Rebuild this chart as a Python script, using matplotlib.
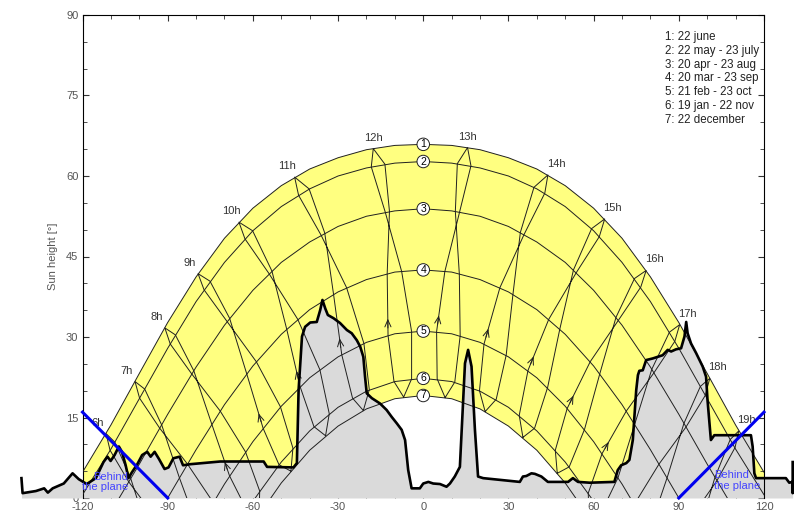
import matplotlib
matplotlib.use('Agg')
import matplotlib.pyplot as plt

plt.rcParams['font.family'] = ['Liberation Sans', 'DejaVu Sans']
plt.rcParams['axes.unicode_minus'] = False

# Sun paths: sun height [deg] at each azimuth of AZ_GRID, one list per date (1..7)
AZ_GRID = [-120, -110, -100, -90, -80, -70, -60, -50, -40, -30, -20, -10, 0,
           10, 20, 30, 40, 50, 60, 70, 80, 90, 100, 110, 120]
EL_22JUN = [4.8, 13.6, 23.2, 32.7, 41.2, 48.4, 54.0, 58.2, 61.3, 63.4, 64.9, 65.7, 65.9,
            65.7, 64.9, 63.4, 61.3, 58.2, 54.0, 48.4, 41.2, 32.7, 23.2, 13.6, 4.8]
EL_MAY_JUL = [0.6, 9.1, 18.5, 27.9, 36.6, 43.9, 49.8, 54.3, 57.6, 60.0, 61.5, 62.4, 62.7,
              62.4, 61.5, 60.0, 57.6, 54.3, 49.8, 43.9, 36.6, 27.9, 18.5, 9.1, 0.6]
EL_APR_AUG = [-10.5, -2.6, 6.3, 15.6, 24.4, 32.2, 38.7, 43.9, 47.7, 50.6, 52.5, 53.5, 53.9,
              53.5, 52.5, 50.6, 47.7, 43.9, 38.7, 32.2, 24.4, 15.6, 6.3, -2.6, -10.5]
EL_MAR_SEP = [-24.6, -17.4, -9.0, 0.0, 9.0, 17.4, 24.6, 30.5, 35.1, 38.4, 40.7, 42.1, 42.5,
              42.1, 40.7, 38.4, 35.1, 30.5, 24.6, 17.4, 9.0, 0.0, -9.0, -17.4, -24.6]
EL_FEB_OCT = [-38.7, -32.2, -24.4, -15.6, -6.3, 2.6, 10.5, 17.1, 22.4, 26.3, 29.0, 30.6, 31.1,
              30.6, 29.0, 26.3, 22.4, 17.1, 10.5, 2.6, -6.3, -15.6, -24.4, -32.2, -38.7]
EL_JAN_NOV = [-49.8, -43.9, -36.6, -27.9, -18.5, -9.1, -0.6, 6.7, 12.5, 16.9, 19.9, 21.7, 22.3,
              21.7, 19.9, 16.9, 12.5, 6.7, -0.6, -9.1, -18.5, -27.9, -36.6, -43.9, -49.8]
EL_22DEC = [-54.0, -48.4, -41.2, -32.7, -23.2, -13.6, -4.8, 2.8, 8.9, 13.4, 16.6, 18.5, 19.1,
            18.5, 16.6, 13.4, 8.9, 2.8, -4.8, -13.6, -23.2, -32.7, -41.2, -48.4, -54.0]
PATHS = [EL_22JUN, EL_MAY_JUL, EL_APR_AUG, EL_MAR_SEP, EL_FEB_OCT, EL_JAN_NOV, EL_22DEC]

LEGEND = ['1: 22 june', '2: 22 may - 23 july', '3: 20 apr - 23 aug', '4: 20 mar - 23 sep',
          '5: 21 feb - 23 oct', '6: 19 jan - 22 nov', '7: 22 december']

# Hour lines (legal time), sun position on each date of the year loop:
# 22 dec, 19 jan, 21 feb, 20 mar, 20 apr, 22 may, 22 jun, 23 jul, 23 aug, 23 sep, 23 oct, 22 nov
HOURS = [6, 7, 8, 9, 10, 11, 12, 13, 14, 15, 16, 17, 18, 19]
HOUR_AZ = [
    [-78.5, -83.2, -90.2, -97.0, -103.0, -108.6, -111.7, -110.3, -103.7, -94.1, -84.9, -78.8],
    [-68.3, -72.7, -79.3, -85.9, -92.1, -98.1, -101.5, -99.9, -92.8, -83.0, -74.0, -68.4],
    [-57.8, -62.1, -68.2, -74.5, -80.8, -87.3, -91.0, -89.1, -81.5, -71.5, -62.6, -57.6],
    [-46.6, -50.8, -56.4, -62.2, -68.2, -75.1, -79.3, -77.2, -69.1, -58.8, -50.3, -45.9],
    [-34.4, -38.5, -43.4, -48.1, -53.3, -60.1, -64.9, -62.8, -54.3, -44.2, -36.4, -33.1],
    [-21.1, -24.9, -28.7, -31.6, -34.7, -40.2, -45.3, -43.9, -36.0, -27.0, -20.9, -19.0],
    [-6.9, -10.3, -12.4, -12.7, -11.9, -13.5, -17.6, -18.3, -13.4, -7.6, -4.1, -4.1],
    [7.7, 4.9, 4.7, 7.6, 12.8, 16.8, 15.6, 12.0, 11.3, 12.7, 13.0, 11.1],
    [21.8, 19.8, 21.4, 27.0, 35.5, 42.8, 43.9, 39.0, 34.2, 31.6, 29.2, 25.7],
    [35.1, 33.8, 36.9, 44.2, 53.9, 62.0, 63.9, 59.3, 52.9, 48.1, 43.8, 39.2],
    [47.2, 46.5, 50.7, 58.8, 68.7, 76.6, 78.5, 74.4, 67.9, 62.2, 56.8, 51.4],
    [58.4, 58.1, 63.0, 71.5, 81.2, 88.6, 90.3, 86.7, 80.5, 74.5, 68.6, 62.7],
    [68.8, 68.9, 74.3, 83.0, 92.5, 99.3, 100.9, 97.6, 91.8, 85.9, 79.6, 73.2],
    [79.1, 79.4, 85.2, 94.1, 103.4, 109.8, 111.1, 108.1, 102.7, 97.0, 90.6, 83.7],
]
HOUR_EL = [
    [-21.7, -21.5, -15.7, -6.3, 3.6, 10.4, 12.0, 8.9, 3.0, -3.8, -10.8, -17.4],
    [-12.0, -11.6, -5.7, 3.8, 13.6, 20.3, 21.7, 18.6, 13.0, 6.3, -0.8, -7.7],
    [-3.0, -2.3, 4.1, 13.8, 23.7, 30.4, 31.7, 28.7, 23.1, 16.2, 8.6, 1.3],
    [5.0, 6.2, 13.0, 23.2, 33.5, 40.4, 41.8, 38.8, 32.9, 25.4, 17.0, 9.3],
    [11.6, 13.3, 20.8, 31.5, 42.3, 49.8, 51.4, 48.3, 41.8, 33.3, 23.9, 15.7],
    [16.3, 18.6, 26.7, 38.0, 49.4, 57.6, 59.8, 56.4, 49.0, 39.2, 28.8, 20.2],
    [18.8, 21.7, 30.3, 41.8, 53.4, 62.2, 65.1, 61.7, 53.3, 42.2, 31.0, 22.2],
    [18.7, 22.2, 31.0, 42.2, 53.3, 61.9, 65.3, 62.3, 53.4, 41.8, 30.2, 21.6],
    [16.1, 20.0, 28.7, 39.2, 49.1, 56.8, 60.2, 57.9, 49.5, 38.0, 26.6, 18.4],
    [11.3, 15.4, 23.8, 33.3, 42.0, 48.7, 52.0, 50.2, 42.5, 31.5, 20.6, 13.0],
    [4.6, 8.9, 16.7, 25.4, 33.1, 39.3, 42.4, 40.9, 33.7, 23.2, 12.8, 5.8],
    [-3.4, 0.9, 8.3, 16.2, 23.3, 29.2, 32.3, 30.9, 24.0, 13.8, 3.8, -2.7],
    [-12.5, -8.2, -1.2, 6.3, 13.2, 19.1, 22.3, 20.8, 13.9, 3.8, -6.0, -12.1],
    [-22.2, -17.9, -11.1, -3.8, 3.2, 9.4, 12.5, 10.9, 3.8, -6.3, -16.1, -22.0],
]

# Far horizon profile
HZ_AZ = [-141.5, -141.1, -136.4, -133.5, -132.2, -130.5, -126.6, -123.5, -121.3, -118.5, -115.3,
         -112.6, -111.2, -110.1, -108.7, -107.2, -106.1, -104.8, -103.8, -102.7, -100.7, -99.0,
         -97.2, -96.0, -94.6, -93.1, -91.1, -89.7, -88.0, -85.8, -84.6, -82.0, -71.5, -56.2,
         -55.0, -45.7, -44.5, -43.9, -42.7, -41.6, -39.8, -37.5, -36.3, -35.5, -34.5, -33.6,
         -31.6, -29.3, -26.9, -25.2, -23.4, -22.2, -21.1, -20.5, -19.9, -18.1, -15.2, -12.9,
         -11.1, -9.3, -7.6, -6.4, -5.3, -4.1, -1.2, 0.0, 1.8, 3.5, 5.9, 8.2, 9.4, 11.1, 12.9,
         14.7, 15.8, 17.0, 18.2, 19.3, 21.1, 34.0, 35.1, 36.3, 38.1, 39.3, 41.6, 43.9, 51.0,
         52.7, 54.5, 58.6, 67.3, 68.5, 69.7, 71.5, 72.6, 73.8, 75.0, 75.6, 76.1, 77.3, 78.5,
         80.8, 84.3, 86.1, 87.3, 89.0, 90.8, 92.0, 92.6, 93.1, 94.3, 96.1, 98.4, 99.6, 100.1,
         101.3, 102.5, 115.4, 116.0, 116.6, 117.2, 127.7, 128.9, 130.0, 130.1, 130.1]
HZ_EL = [3.7, 0.9, 1.3, 1.8, 1.0, 1.8, 2.7, 4.6, 3.5, 2.6, 3.7,
         6.7, 7.7, 6.9, 8.0, 9.6, 8.6, 6.1, 3.7, 4.7, 6.3, 8.0,
         8.6, 7.7, 8.6, 7.3, 5.4, 5.7, 7.4, 7.7, 6.1, 6.3, 6.8, 6.8,
         5.8, 5.7, 6.5, 20.1, 30.1, 31.9, 32.7, 32.8, 35.0, 36.9, 35.3, 34.1,
         33.5, 32.6, 31.3, 30.7, 29.4, 28.2, 26.3, 22.6, 19.5, 18.6, 17.6, 16.4,
         15.1, 13.9, 12.7, 10.8, 5.2, 1.8, 1.8, 2.7, 3.0, 2.7, 2.6, 2.1, 2.7, 4.0, 5.8,
         25.1, 27.6, 24.5, 12.7, 4.0, 3.7, 3.0, 4.0, 4.1, 4.6, 4.5, 4.0, 3.0, 3.0,
         3.7, 3.0, 2.85, 3.0, 5.2, 6.1, 6.5, 7.1, 10.8, 20.1, 22.9, 23.7, 23.8, 25.7,
         26.0, 26.6, 27.6, 27.3, 27.7, 27.9, 30.1, 32.8, 30.7, 28.8, 27.0, 24.5, 22.6, 18.3,
         10.8, 11.7, 11.7, 9.6, 4.6, 3.7, 3.7, 2.85, 3.0, 0.9, 6.7]

# "Behind the plane" limits
BL_AZ, BL_EL = [-120, -90], [16, 0]
BR_AZ, BR_EL = [90, 120], [0, 16]

fig = plt.figure(figsize=(8.11, 5.19), dpi=100)
ax = fig.add_axes([82.5 / 811, 21 / 519, 681.5 / 811, 483 / 519])
ax.set_xlim(-120, 120)
ax.set_ylim(0, 90)

# yellow band between june and december, horizon in grey
ax.fill_between(AZ_GRID, EL_22DEC, EL_22JUN, color='#ffff80', lw=0, zorder=1)
ax.fill_between(HZ_AZ, 0, HZ_EL, color='#dadada', lw=0, zorder=2, clip_on=False)

for el in PATHS:
    ax.plot(AZ_GRID, el, color='#202020', lw=0.7, zorder=3)

for i, t in enumerate(HOURS):
    az = HOUR_AZ[i] + [HOUR_AZ[i][0]]
    el = HOUR_EL[i] + [HOUR_EL[i][0]]
    ax.plot(az, el, color='#202020', lw=0.7, zorder=3)
    # arrow on the feb -> mar part of the loop
    a0, e0 = HOUR_AZ[i][2], HOUR_EL[i][2]
    a1, e1 = HOUR_AZ[i][3], HOUR_EL[i][3]
    if e0 > 0:
        ax.annotate('', xy=(a0 + 0.27 * (a1 - a0), e0 + 0.27 * (e1 - e0)),
                    xytext=(a0 + 0.12 * (a1 - a0), e0 + 0.12 * (e1 - e0)),
                    arrowprops=dict(arrowstyle='->,head_length=0.5,head_width=0.22',
                                    lw=0.7, color='#202020', shrinkA=0, shrinkB=0), zorder=4)
    # hour label next to the june point
    dx = 0 if t in (12, 13) else (-8 if t < 12 else 8)
    ax.annotate(f'{t}h', xy=(HOUR_AZ[i][6], HOUR_EL[i][6]), xytext=(dx, 11),
                textcoords='offset pixels', ha='center', va='center', fontsize=8,
                color='#333333', zorder=6)

ax.plot(HZ_AZ, HZ_EL, color='k', lw=1.9, zorder=5, clip_on=False)
ax.plot(BL_AZ, BL_EL, color='#0000ee', lw=2.2, zorder=6, clip_on=False)
ax.plot(BR_AZ, BR_EL, color='#0000ee', lw=2.2, zorder=6, clip_on=False)
ax.text(-104, 3.0, 'Behind\nthe plane', color='#4444ff', fontsize=8, ha='right', va='center',
        linespacing=1.1, zorder=7)
ax.text(102.5, 3.3, 'Behind\nthe plane', color='#4444ff', fontsize=8, ha='left', va='center',
        linespacing=1.1, zorder=7)

# numbered circles at noon
noon = AZ_GRID.index(0)
for i, el in enumerate(PATHS):
    ax.text(0, el[noon], str(i + 1), ha='center', va='center', fontsize=7.5, zorder=8,
            bbox=dict(boxstyle='circle,pad=0.12', fc='white', ec='#202020', lw=0.7))

ax.text(0.855, 0.967, '\n'.join(LEGEND), transform=ax.transAxes, fontsize=8.3,
        color='#222222', ha='left', va='top', linespacing=1.2)

ax.set_xticks(range(-120, 121, 30))
ax.set_xticks(range(-120, 121, 10), minor=True)
ax.set_yticks(range(0, 91, 15))
ax.set_yticks(range(0, 91, 5), minor=True)
ax.tick_params(which='both', direction='in', top=True, right=True, labelsize=8,
               labelcolor='#555555', color='#333333')
ax.tick_params(which='major', length=4, pad=3)
ax.tick_params(which='minor', length=3)
ax.spines['bottom'].set_visible(False)
ax.set_ylabel('Sun height [°]', fontsize=8, color='#555555')
ax.yaxis.set_label_coords(-0.036, 0.5)

fig.savefig('out.png', dpi=100)
